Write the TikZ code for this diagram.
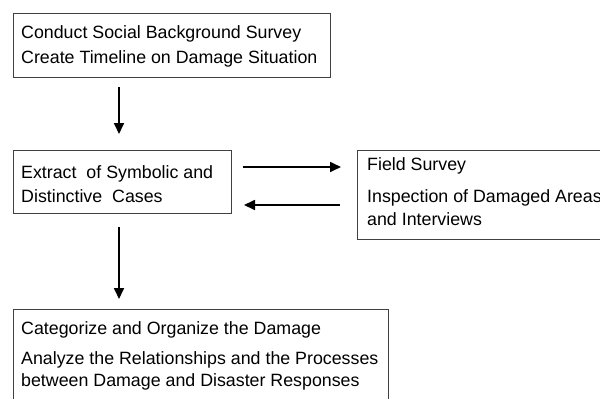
\documentclass[tikz,border=0pt]{standalone}
\usepackage{fontspec}
\setmainfont{Liberation Sans}
\usetikzlibrary{arrows.meta}
\begin{document}
\begin{tikzpicture}[x=1pt,y=-1pt,
  stepbox/.style={draw=black!75,line width=0.9pt,inner sep=0pt},
  txt/.style={anchor=base west,inner sep=0pt,font=\fontsize{17.8}{21}\selectfont},
  flow/.style={line width=1.7pt,-{Triangle[length=11pt,width=10pt]}}]
\useasboundingbox (0,0) rectangle (600,399);
\clip (0,0) rectangle (600,399);
\fill[white] (0,0) rectangle (600,399);
% boxes
\node[stepbox,minimum width=317pt,minimum height=64pt,anchor=north west] (b1) at (12.5,12.5) {};
\node[stepbox,minimum width=218pt,minimum height=63pt,anchor=north west] (b2) at (12.5,150) {};
\node[stepbox,minimum width=260pt,minimum height=89pt,anchor=north west] (b3) at (357,150) {};
\node[stepbox,minimum width=375pt,minimum height=110pt,anchor=north west] (b4) at (12.5,308.5) {};
% texts
\node[txt] (t1a) at (21,38) {Conduct Social Background Survey};
\node[txt] (t1b) at (21,63) {Create Timeline on Damage Situation};
\node[txt] (t2a) at (21,178) {Extract\ \ of Symbolic and};
\node[txt] (t2b) at (21,202) {Distinctive\ \ Cases};
\node[txt] (t3a) at (367,170) {Field Survey};
\node[txt] (t3b) at (367,202) {Inspection of Damaged Areas};
\node[txt] (t3c) at (367,225) {and Interviews};
\node[txt] (t4a) at (21,334) {Categorize and Organize the Damage};
\node[txt] (t4b) at (21,364) {Analyze the Relationships and the Processes};
\node[txt] (t4c) at (21,386) {between Damage and Disaster Responses};
% arrow ends
\coordinate (a1s) at (119,87);
\coordinate (a1e) at (119,134);
\coordinate (a2s) at (243,167);
\coordinate (a2e) at (341,167);
\coordinate (a3s) at (340,205);
\coordinate (a3e) at (244,205);
\coordinate (a4s) at (119,227);
\coordinate (a4e) at (119,299);
\draw[flow] (a1s) -- (a1e);
\draw[flow] (a2s) -- (a2e);
\draw[flow] (a3s) -- (a3e);
\draw[flow] (a4s) -- (a4e);
\end{tikzpicture}
\end{document}
